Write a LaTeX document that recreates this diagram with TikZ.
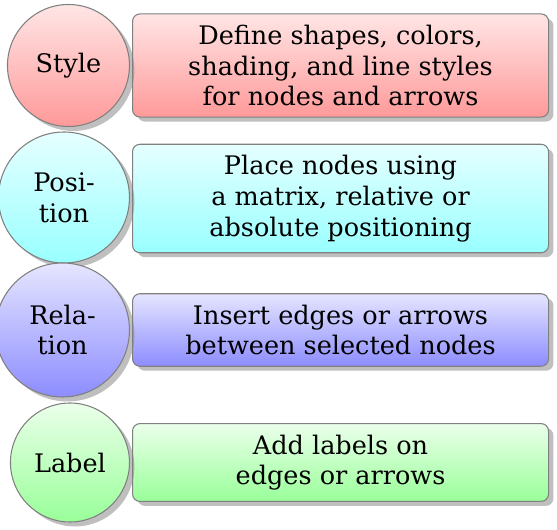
\documentclass[tikz,border=0pt]{standalone}
\usepackage{fontspec}
\setmainfont{DejaVu Serif}
\usetikzlibrary{shadows}
\begin{document}
\begin{tikzpicture}[x=0.47pt,y=-0.47pt,
  every node/.style={font=\fontsize{12}{14.4}\selectfont},
  myshadow/.style={drop shadow={shadow xshift=2.3pt, shadow yshift=-2.1pt}},
  stepcircle/.style={circle, draw=black!50, line width=0.5pt, inner sep=0pt,
    align=center, myshadow, anchor=east},
  stepbox/.style={rectangle, rounded corners=3.5pt, draw=black!50, line width=0.5pt,
    minimum width=416*0.47pt, inner xsep=4pt, inner ysep=5.2pt, align=center,
    myshadow, anchor=west},
  redfill/.style={top color=red!10, bottom color=red!40},
  cyanfill/.style={top color=cyan!10, bottom color=cyan!40},
  bluefill/.style={top color=blue!10, bottom color=blue!45},
  greenfill/.style={top color=green!8, bottom color=green!40},
]
\useasboundingbox (0,0) rectangle (557,529);
% boxes
\node[stepbox, redfill] (b1) at (132,65.5)
  {Define shapes, colors,\\shading, and line styles\\for nodes and arrows};
\node[stepbox, cyanfill] (b2) at (132,198.5)
  {Place nodes using\\a matrix, relative or\\absolute positioning};
\node[stepbox, bluefill] (b3) at (132,330)
  {Insert edges or arrows\\between selected nodes};
\node[stepbox, greenfill] (b4) at (132,462.5)
  {Add labels on\\edges or arrows};
% circles
\node[stepcircle, redfill, minimum size=122*0.47pt] (c1) at (130,65.5) {Style};
\node[stepcircle, cyanfill, minimum size=131*0.47pt] (c2) at (130,197.5) {Posi-\\tion};
\node[stepcircle, bluefill, minimum size=134*0.47pt] (c3) at (130,330) {Rela-\\tion};
\node[stepcircle, greenfill, minimum size=119*0.47pt] (c4) at (130,462.5) {Label};
\end{tikzpicture}
\end{document}
